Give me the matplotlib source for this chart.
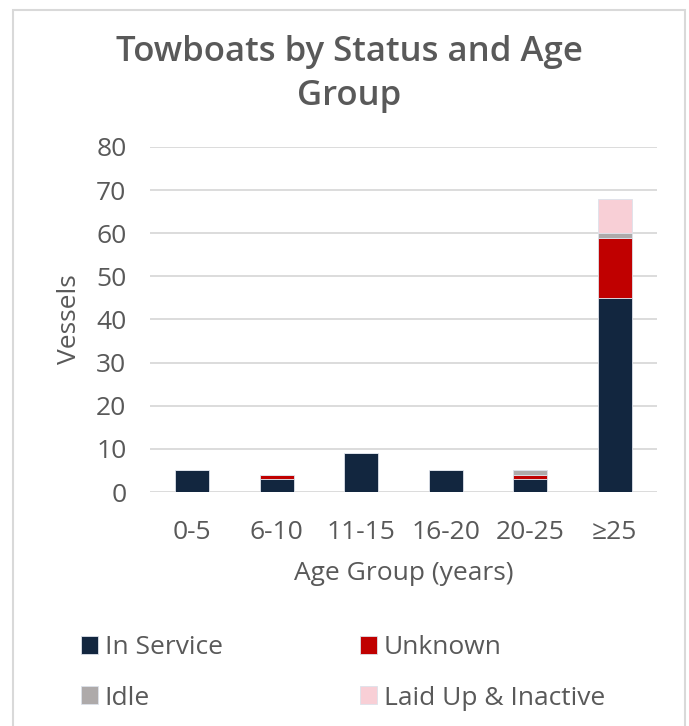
import matplotlib
matplotlib.use("Agg")
import matplotlib.pyplot as plt
from matplotlib.patches import Rectangle
import numpy as np

plt.rcParams['font.family'] = ['Open Sans', 'DejaVu Sans']

categories = ["0-5", "6-10", "11-15", "16-20", "20-25", "\u226525"]
in_service = [5, 3, 9, 5, 3, 45]
unknown = [0, 1, 0, 0, 1, 14]
idle = [0, 0, 0, 0, 1, 1]
laid_up = [0, 0, 0, 0, 0, 8]

series = [
    ("In Service", in_service, "#12263f"),
    ("Unknown", unknown, "#c00000"),
    ("Idle", idle, "#aeaaaa"),
    ("Laid Up & Inactive", laid_up, "#f8cfd6"),
]

text_color = "#595959"

fig = plt.figure(figsize=(6.89, 7.26), dpi=100)
W, H = 689, 726

# chart frame
fig.patches.append(Rectangle((13 / W, -0.05), (685 - 13) / W, 1.05 - 10 / H,
                             transform=fig.transFigure, fill=False,
                             edgecolor="#d9d9d9", linewidth=1.5))

ax = fig.add_axes([150 / W, 1 - 492 / H, (657 - 150) / W, (492 - 147) / H])

x = np.arange(len(categories))
bottom = np.zeros(len(categories))
handles = {}
for name, vals, color in series:
    vals = np.array(vals, dtype=float)
    bars = ax.bar(x, vals, width=0.4, bottom=bottom, color=color,
                  edgecolor="#dde2ea", linewidth=0.6, label=name, zorder=3)
    handles[name] = bars
    bottom += vals

ax.set_ylim(0, 80)
ax.set_xlim(-0.5, len(categories) - 0.5)
ax.set_yticks(np.arange(0, 81, 10))
ax.yaxis.grid(True, color="#d9d9d9", linewidth=1.3, zorder=0)
ax.set_axisbelow(True)
for s in ax.spines.values():
    s.set_visible(False)
ax.tick_params(axis="both", length=0, labelsize=19, labelcolor=text_color)
ax.tick_params(axis="y", pad=17)
ax.tick_params(axis="x", pad=20)
ax.set_xticks(x)
ax.set_xticklabels(categories)

ax.set_ylabel("Vessels", fontsize=19, color=text_color, labelpad=10)
ax.set_xlabel("Age Group (years)", fontsize=19, color=text_color, labelpad=12)

fig.text(349 / W, 1 - 74 / H, "Towboats by Status and Age\nGroup",
         ha="center", va="center", fontsize=25, fontweight="semibold",
         color=text_color, linespacing=1.35)

# legend filled row by row: In Service, Unknown / Idle, Laid Up & Inactive
order = ["In Service", "Idle", "Unknown", "Laid Up & Inactive"]
fig.legend([handles[n] for n in order], order, loc="center",
           bbox_to_anchor=(343 / W, 1 - 673 / H),
           ncol=2, frameon=False, fontsize=19, labelcolor=text_color,
           handlelength=0.65, handleheight=0.65, handletextpad=0.25,
           columnspacing=5.2, labelspacing=0.95)

fig.savefig("out.png", dpi=100)
